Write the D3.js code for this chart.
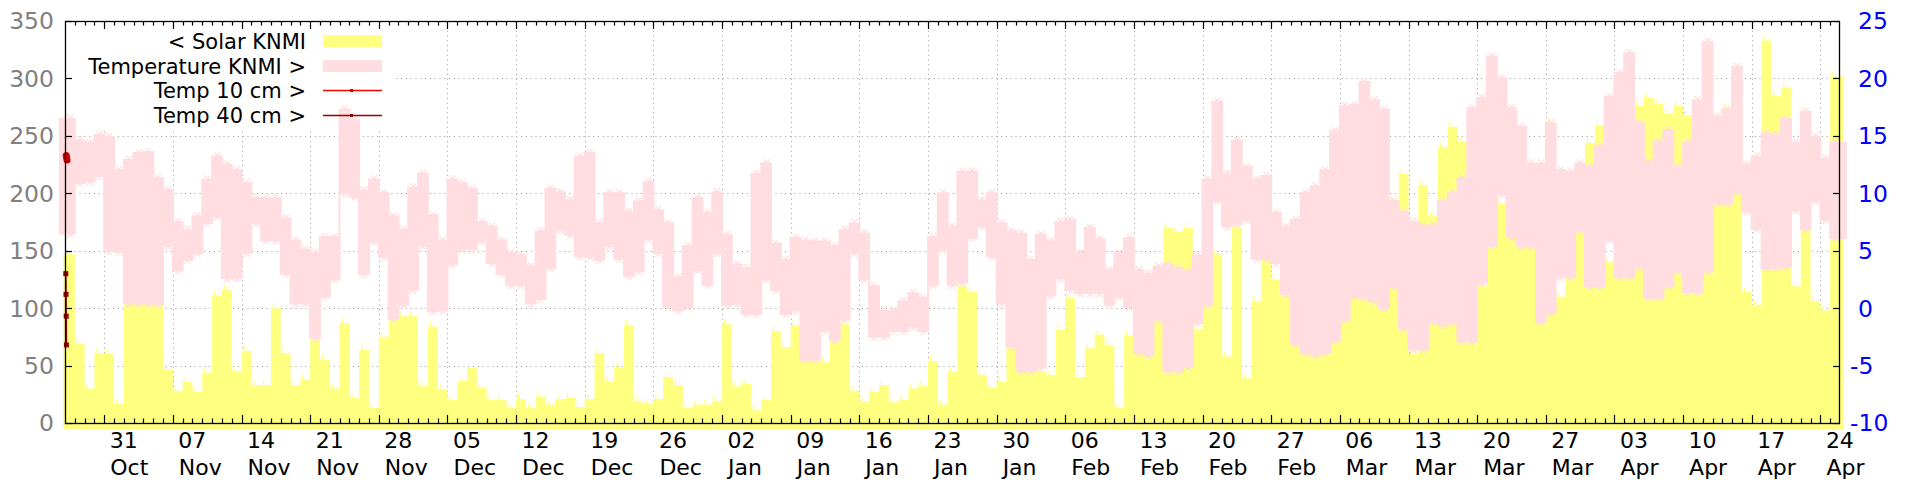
<!DOCTYPE html>
<html><head><meta charset="utf-8">
<script src="https://cdn.jsdelivr.net/npm/d3@7"></script>
<style>
body{margin:0;background:#fff}
svg{display:block}
text{font-family:"DejaVu Sans",sans-serif}
</style>
</head><body>
<svg id="chart" width="1920" height="480"></svg>
<script>
// ---------------- DATA ----------------
const firstDay = "2022-10-27";   // day index 0
const lastDay  = "2023-04-26";   // end of x domain
const solar = [147,69,30,61,60,17,135,104,104,104,47,28,36,27,44,111,116,45,63,33,
  33,100,61,33,38,82,55,30,87,22,64,13,75,95,93,93,32,84,29,20,
  37,48,31,20,20,13,21,13,23,16,21,22,14,21,61,36,48,85,19,17,
  21,40,33,13,16,16,19,86,32,34,11,20,80,66,85,90,60,53,81,86,
  28,19,27,33,18,20,30,32,54,16,45,119,114,42,31,36,90,64,45,45,
  42,81,109,40,65,77,68,13,76,82,80,95,170,167,170,82,103,147,58,170,
  39,106,143,125,111,95,90,90,95,72,90,130,115,115,101,194,217,60,207,180,
  240,258,245,120,120,154,191,162,161,154,120,261,110,127,168,244,259,140,190,160,
  276,283,278,269,276,268,240,230,205,274,220,114,103,333,285,292,119,271,106,98,302];
const tempMax = [16.5,14.6,14.4,15.1,14.9,12.0,12.9,13.5,13.6,11.3,10.3,7.5,6.8,8.0,11.2,13.2,12.5,12.0,10.9,9.6,
  9.6,9.6,7.8,5.9,5.1,4.8,6.2,6.2,17.3,16.4,10.2,11.2,10.0,8.0,6.8,10.5,11.7,8.1,5.9,11.2,
  10.9,10.4,7.5,7.1,5.9,4.8,4.6,3.6,6.7,10.4,10.1,9.4,13.2,13.5,7.4,10.0,10.0,8.4,9.3,11.0,
  8.5,7.4,2.7,5.4,9.6,8.3,10.1,6.4,3.8,3.5,11.7,12.6,5.6,4.2,6.1,5.9,5.8,5.8,5.4,6.8,
  7.4,6.5,1.9,-0.2,-0.2,0.6,1.3,0.9,6.2,10.0,7.1,11.9,11.9,9.4,10.0,7.4,6.7,6.5,4.2,6.4,
  5.8,7.5,7.7,4.8,7.0,6.0,3.3,4.8,6.1,3.3,3.0,3.6,3.8,3.5,3.2,4.6,11.2,18.0,11.7,14.6,
  12.3,11.2,11.5,8.3,7.1,7.7,10.0,10.6,12.0,15.4,17.6,17.7,19.7,18.1,17.3,9.3,8.4,7.5,7.1,7.2,
  9.3,10.0,11.3,17.4,18.3,21.9,20.0,17.4,15.8,12.6,12.6,16.1,12.0,11.9,12.6,12.3,14.1,18.4,20.5,22.2,
  16.1,12.7,14.5,15.5,12.3,14.4,18.1,23.2,16.7,17.3,21.0,12.5,13.2,15.2,15.1,16.5,14.4,17.1,14.9,13.0,14.4];
const tempMin = [6.5,10.9,11.0,11.5,5.0,4.9,0.4,0.4,0.4,0.3,5.4,3.3,4.2,4.8,7.4,8.0,2.6,2.6,4.8,7.4,
  5.9,5.9,3.0,0.4,0.4,-2.6,1.0,2.5,10.0,9.7,3.0,5.8,4.5,-0.9,0.3,1.6,5.4,-0.3,-0.2,3.8,
  5.1,5.1,5.8,3.9,3.0,2.0,2.0,0.4,0.8,3.5,6.8,6.4,4.5,4.5,4.2,5.4,4.3,2.8,3.2,6.0,
  4.8,0.1,-0.2,0.1,3.3,2.0,4.8,0.3,0.4,-0.5,-0.5,2.5,1.6,-0.5,-0.2,-4.5,-4.5,-2.0,-2.8,-1.0,
  4.8,2.5,-2.5,-2.5,-2.0,-2.0,-1.6,-2.0,2.0,5.1,2.0,2.2,6.1,7.1,4.5,0.4,-3.3,-5.5,-5.5,-5.2,
  1.1,2.6,1.6,1.3,1.3,1.3,0.3,1.0,0.1,-3.9,-4.1,-1.0,-5.5,-5.5,-5.1,-1.3,0.3,9.3,7.1,7.3,
  7.7,4.3,4.3,3.9,1.2,-3.1,-3.9,-4.1,-3.9,-2.8,-1.0,1.0,0.9,0.6,0.0,1.9,-1.8,-3.6,-3.6,-1.2,
  -1.5,-1.2,-2.9,-2.9,2.2,5.4,9.9,6.2,5.4,5.4,-1.2,-0.4,2.7,2.7,6.8,1.9,1.9,5.9,2.7,2.7,
  3.6,0.9,0.9,1.9,3.2,1.4,1.4,3.2,9.1,9.1,10.1,8.4,6.9,3.5,3.5,3.6,8.5,6.9,9.3,7.7,6.1];
// soil temperatures: only a few readings at the very start of the period
const temp10Times = ["2022-10-27T03:00","2022-10-27T04:00","2022-10-27T05:00"];
const temp10 = [13.3,13.1,12.9];
const temp40Times = ["2022-10-27T02:00","2022-10-27T02:30","2022-10-27T03:00","2022-10-27T03:30"];
const temp40 = [3.0,1.2,-0.7,-3.2];
const tickDates = ["2022-10-31","2022-11-07","2022-11-14","2022-11-21","2022-11-28","2022-12-05",
  "2022-12-12","2022-12-19","2022-12-26","2023-01-02","2023-01-09","2023-01-16","2023-01-23",
  "2023-01-30","2023-02-06","2023-02-13","2023-02-20","2023-02-27","2023-03-06","2023-03-13",
  "2023-03-20","2023-03-27","2023-04-03","2023-04-10","2023-04-17","2023-04-24"];
const leftTicks  = [0,50,100,150,200,250,300,350];
const rightTicks = [-10,-5,0,5,10,15,20,25];
const legendLabels = ["< Solar KNMI","Temperature KNMI >","Temp 10 cm >","Temp 40 cm >"];

// ---------------- SETUP ----------------
const C = {solar:"#ffff80", temp:"#ffdde0", t10:"#ff0000", t10p:"#cc0000", t40:"#990000", t40p:"#990000",
           grid:"#a8a8a8", left:"#808080", right:"#0000ff"};
const M = {l:65, r:1840, t:21, b:423};
const svg = d3.select("#chart");
const parse = s => new Date(s + (s.length===10 ? "T00:00:00Z" : ":00Z"));
const day0 = parse(firstDay);
const dayDate = i => d3.utcDay.offset(day0, i);
const x = d3.scaleUtc().domain([day0, parse(lastDay)]).range([M.l, M.r]);
const yL = d3.scaleLinear().domain([0,350]).range([M.b, M.t]);
const yR = d3.scaleLinear().domain([-10,25]).range([M.b, M.t]);

const rows = solar.map((s,i)=>({d:dayDate(i), s, hi:tempMax[i], lo:tempMin[i], i}));
const rowsClosed = rows.concat([{d:dayDate(rows.length), s:solar[solar.length-1],
  hi:tempMax[tempMax.length-1], lo:tempMin[tempMin.length-1], i:rows.length}]);
const n = rowsClosed.length-1;

// ---------------- GRID ----------------
const grid = svg.append("g").attr("stroke", C.grid).attr("stroke-width",1).attr("stroke-dasharray","1.2,3.6");
grid.selectAll(".vg").data(tickDates).join("line")
  .attr("x1", d=>Math.round(x(parse(d)))+0.5).attr("x2", d=>Math.round(x(parse(d)))+0.5)
  .attr("y1", M.t).attr("y2", M.b);
grid.selectAll(".hg").data(leftTicks.filter(v=>v>0 && v<350)).join("line")
  .attr("x1", M.l).attr("x2", M.r)
  .attr("y1", d=>Math.round(yL(d))+0.5).attr("y2", d=>Math.round(yL(d))+0.5);

// legend background (opaque key box)
svg.append("rect").attr("x", M.l).attr("y", M.t).attr("width", 328).attr("height", 107).attr("fill","#fff");

// ---------------- SOLAR ----------------
const solarArea = d3.area()
  .x(d => x(d.d) + (d.i===0 ? -2 : (d.i===n ? 3 : 0)))
  .y0(yL(0)+6).y1(d => yL(d.s)).curve(d3.curveStepAfter);
svg.append("path").datum(rowsClosed).attr("d", solarArea).attr("fill", C.solar);
svg.append("g").selectAll("line").data(rows).join("line")
  .attr("x1", d=>x(d.d)+2.5).attr("x2", d=>x(d.d)+2.5)
  .attr("y1", d=>yL(d.s)).attr("y2", d=>yL(d.s)-5)
  .attr("stroke", C.solar).attr("stroke-width",1.2);

// ---------------- TEMPERATURE BAND ----------------
const tempArea = d3.area()
  .x(d => x(d.d) + (d.i===0 ? -5 : (d.i===n ? 6 : 0)))
  .y0(d => yR(d.lo)).y1(d => yR(d.hi)).curve(d3.curveStepAfter);
svg.append("path").datum(rowsClosed).attr("d", tempArea).attr("fill", C.temp)
  .attr("stroke", C.temp).attr("stroke-width", 2);
const xm = svg.append("g").attr("stroke", C.temp).attr("stroke-width",1.2);
rows.forEach(r=>{
  [yR(r.hi), yR(r.lo)].forEach((yy,k)=>{
    const cx = x(r.d)+5, cy = yy + (k===0 ? -1 : 1);
    xm.append("path").attr("d", `M${cx-3},${cy-3}L${cx+3},${cy+3}M${cx-3},${cy+3}L${cx+3},${cy-3}`);
  });
});

// ---------------- SOIL TEMPS ----------------
const t10 = temp10.map((v,i)=>({d:parse(temp10Times[i]), v}));
const t40 = temp40.map((v,i)=>({d:parse(temp40Times[i]), v}));
const ln = d3.line().x(d=>x(d.d)).y(d=>yR(d.v));
svg.append("path").datum(t40).attr("d", ln).attr("fill","none").attr("stroke",C.t40).attr("stroke-width",1.5);
svg.append("g").selectAll("rect").data(t40).join("rect")
  .attr("x", d=>x(d.d)-2.5).attr("y", d=>yR(d.v)-2.5).attr("width",5).attr("height",5).attr("fill",C.t40p);
svg.append("path").datum(t10).attr("d", ln).attr("fill","none").attr("stroke",C.t10).attr("stroke-width",1.5);
svg.append("g").selectAll("circle").data(t10).join("circle")
  .attr("cx", d=>x(d.d)).attr("cy", d=>yR(d.v)).attr("r",3.5).attr("fill",C.t10p);

// ---------------- FRAME & TICKS ----------------
svg.append("rect").attr("x", M.l+0.5).attr("y", M.t+0.5).attr("width", M.r-M.l-1).attr("height", M.b-M.t)
  .attr("fill","none").attr("stroke","#000").attr("stroke-width",1.3);
const tk = svg.append("g").attr("stroke","#000").attr("stroke-width",1.2);
const allDays = d3.utcDay.range(day0, parse(lastDay));
allDays.forEach(d=>{
  const major = tickDates.includes(d3.utcFormat("%Y-%m-%d")(d));
  const len = major ? 8 : 4.5, xx = Math.round(x(d))+0.5;
  if (xx <= M.l+1 || xx >= M.r-1) return;
  tk.append("line").attr("x1",xx).attr("x2",xx).attr("y1",M.b).attr("y2",M.b-len);
  tk.append("line").attr("x1",xx).attr("x2",xx).attr("y1",M.t).attr("y2",M.t+len);
});
leftTicks.forEach(v=>{ const yy=Math.round(yL(v))+0.5;
  tk.append("line").attr("x1",M.l).attr("x2",M.l+7).attr("y1",yy).attr("y2",yy); });
rightTicks.forEach(v=>{ const yy=Math.round(yR(v))+0.5;
  tk.append("line").attr("x1",M.r).attr("x2",M.r-7).attr("y1",yy).attr("y2",yy); });

// ---------------- AXIS LABELS ----------------
const FS = 23.5, XFS = 22, LFS = 21;
svg.append("g").selectAll("text").data(leftTicks).join("text")
  .attr("x", 54).attr("y", d=>yL(d)).attr("dy","0.36em").attr("text-anchor","end")
  .attr("font-size",FS).attr("fill",C.left).text(d=>d);
svg.append("g").selectAll("text").data(rightTicks).join("text")
  .attr("x", d=> d<0 ? 1850 : 1858).attr("y", d=>yR(d)).attr("dy","0.36em")
  .attr("font-size",FS).attr("fill",C.right).text(d=>d);
// two-line date labels (day / month)
const xl = svg.append("g").attr("fill","#000").attr("font-size",XFS);
tickDates.forEach(s=>{
  const d = parse(s), xx = x(d)+5.5;
  xl.append("text").attr("x",xx).attr("y",448.3).text(d3.utcFormat("%d")(d));
  xl.append("text").attr("x",xx+0.5).attr("y",474.6).text(d3.utcFormat("%b")(d));
});

// ---------------- LEGEND ----------------
const lg = svg.append("g");
const ly = [41, 66, 90.5, 115.5];
legendLabels.forEach((t,i)=>{
  lg.append("text").attr("x",306).attr("y",ly[i]).attr("dy","0.36em").attr("text-anchor","end")
    .attr("font-size",LFS).attr("fill","#000").text(t);
});
lg.append("rect").attr("x",323).attr("y",ly[0]-6).attr("width",59).attr("height",12).attr("fill",C.solar);
lg.append("rect").attr("x",323).attr("y",ly[1]-6).attr("width",59).attr("height",12).attr("fill",C.temp);
lg.append("line").attr("x1",323).attr("x2",382).attr("y1",ly[2]).attr("y2",ly[2]).attr("stroke",C.t10).attr("stroke-width",1.3);
lg.append("rect").attr("x",350).attr("y",ly[2]-1.5).attr("width",3).attr("height",3).attr("fill",C.t10p);
lg.append("line").attr("x1",323).attr("x2",382).attr("y1",ly[3]).attr("y2",ly[3]).attr("stroke",C.t40).attr("stroke-width",1.3);
lg.append("rect").attr("x",350).attr("y",ly[3]-1.5).attr("width",3).attr("height",3).attr("fill",C.t40p);
</script>
</body></html>
